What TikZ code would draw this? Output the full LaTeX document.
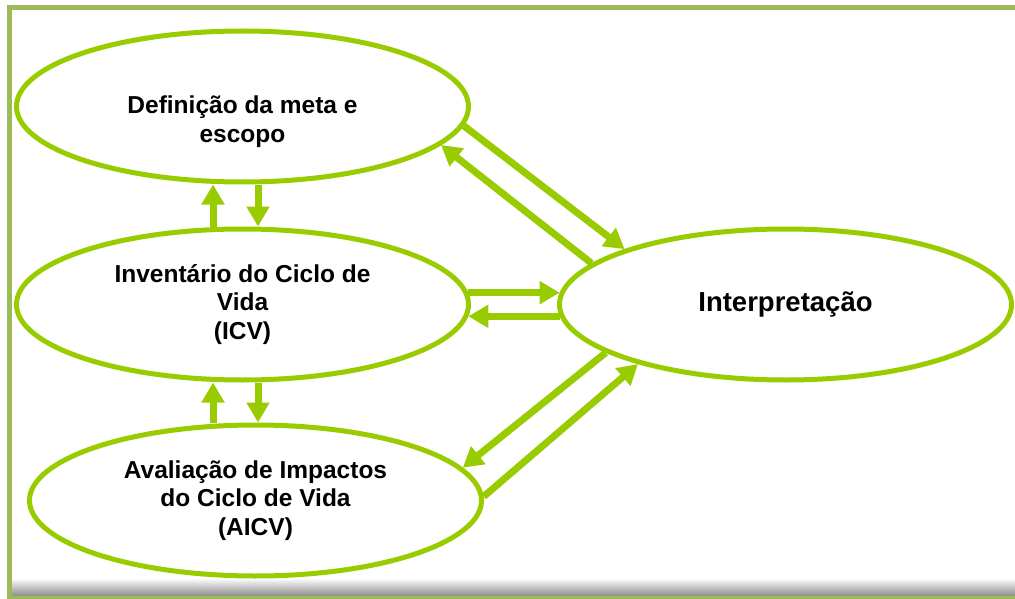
\documentclass[tikz,border=0pt]{standalone}
\usepackage{fontspec}
\setmainfont{Liberation Sans}
\usetikzlibrary{arrows.meta,shapes.geometric}
\definecolor{acv}{HTML}{99CC00}
\definecolor{moldura}{HTML}{9BBB59}
\tikzset{
    EL/.style ={ellipse, minimum width = 452pt, minimum height = 151pt, draw=acv, line width=5pt, align=center, font=\bfseries\fontsize{24.5}{28.5}\selectfont},
    EL2/.style ={EL, font=\bfseries\fontsize{27.5}{33}\selectfont},
    FL/.style ={draw=acv, line width=7pt, -{Triangle[width=22pt,length=20pt]}}}
\begin{document}
\begin{tikzpicture}[x=1pt,y=-1pt]
        \clip (0,0) rectangle (1015,599);
        \shade[top color=white,bottom color=black!45] (12,578) rectangle (1015,596);
        \draw[moldura,line width=5pt] (9.7,8) rectangle (1030,598);
        \node[EL] (def) at(242.5,106.5){\strut\\Definição da meta e\\escopo};
        \node[EL] (icv) at(242.5,304.5){Inventário do Ciclo de\\Vida\\(ICV)};
        \node[EL] (aicv) at(255.5,500.5){Avaliação de Impactos\\do Ciclo de Vida\\(AICV)};
        \node[EL2] (int) at(785.5,304.5){Interpretação};
        \draw[FL] ([xshift=-29.5pt]icv.north) -- ([xshift=-29.5pt]def.south);
        \draw[FL] ([xshift=15.5pt]def.south) -- ([xshift=15.5pt]icv.north);
        \draw[FL] ([xshift=-42.5pt]aicv.north) -- ([xshift=-29.5pt]icv.south);
        \draw[FL] ([xshift=15.5pt]icv.south) -- ([xshift=2.5pt]aicv.north);
        \draw[FL] (icv.3) -- (int.177);
        \draw[FL] (int.183) -- (icv.357);
        \draw[FL] (def.-5) -- (int.161.5);
        \draw[FL] (int.168.7) -- (def.-11.5);
        \draw[FL] (int.-165) -- (aicv.9.2);
        \draw[FL] (aicv.1.5) -- (int.-158);
    \end{tikzpicture}
\end{document}
